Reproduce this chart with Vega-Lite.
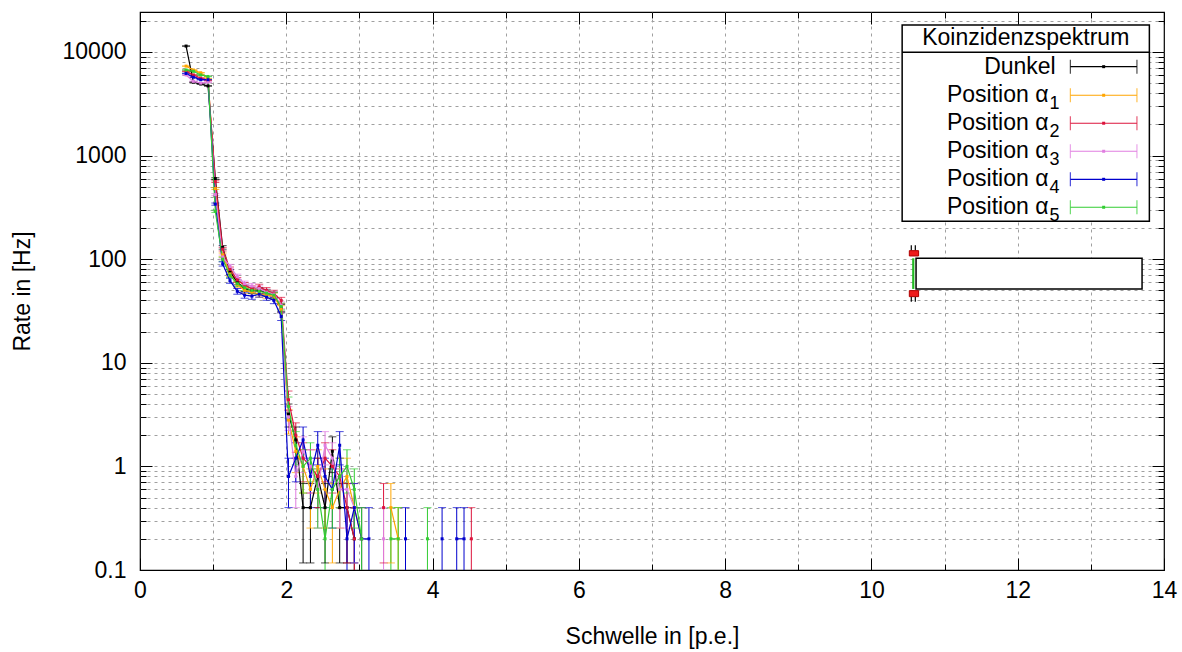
{
  "$schema": "https://vega.github.io/schema/vega-lite/v6.json",
  "width": 1024,
  "height": 558,
  "autosize": {"type": "none"},
  "padding": {"left": 140, "top": 12, "right": 18, "bottom": 82},
  "background": "white",
  "config": {
    "font": "Liberation Sans",
    "view": {"stroke": "black", "strokeWidth": 1.2}
  },
  "datasets": {
    "pts": [
      {"series":"Dunkel","x":0.63,"y":11400,"lo":11352,"hi":11448,"seg":1},
      {"series":"Dunkel","x":0.73,"y":5100,"lo":5068,"hi":5132,"seg":1},
      {"series":"Dunkel","x":0.83,"y":4900,"lo":4869,"hi":4931,"seg":1},
      {"series":"Dunkel","x":0.93,"y":4700,"lo":4669,"hi":4731,"seg":1},
      {"series":"Dunkel","x":1.03,"y":600,"lo":589,"hi":611,"seg":1},
      {"series":"Dunkel","x":1.13,"y":130,"lo":124.9,"hi":135.1,"seg":1},
      {"series":"Dunkel","x":1.23,"y":75,"lo":71.1,"hi":78.9,"seg":1},
      {"series":"Dunkel","x":1.33,"y":60,"lo":56.5,"hi":63.5,"seg":1},
      {"series":"Dunkel","x":1.43,"y":52,"lo":48.8,"hi":55.2,"seg":1},
      {"series":"Dunkel","x":1.53,"y":50,"lo":46.8,"hi":53.2,"seg":1},
      {"series":"Dunkel","x":1.63,"y":50,"lo":46.8,"hi":53.2,"seg":1},
      {"series":"Dunkel","x":1.73,"y":48,"lo":44.9,"hi":51.1,"seg":1},
      {"series":"Dunkel","x":1.83,"y":45,"lo":42,"hi":48,"seg":1},
      {"series":"Dunkel","x":1.93,"y":34,"lo":31.4,"hi":36.6,"seg":1},
      {"series":"Dunkel","x":2.03,"y":3.2,"lo":2.4,"hi":4.0,"seg":1},
      {"series":"Dunkel","x":2.13,"y":1.8,"lo":1.2,"hi":2.4,"seg":1},
      {"series":"Dunkel","x":2.23,"y":0.4,"lo":0.117,"hi":0.683,"seg":1},
      {"series":"Dunkel","x":2.33,"y":0.4,"lo":0.117,"hi":0.683,"seg":1},
      {"series":"Dunkel","x":2.43,"y":0.8,"lo":0.4,"hi":1.2,"seg":1},
      {"series":"Dunkel","x":2.53,"y":0.4,"lo":0.117,"hi":0.683,"seg":1},
      {"series":"Dunkel","x":2.63,"y":1.4,"lo":0.871,"hi":1.929,"seg":1},
      {"series":"Dunkel","x":2.73,"y":0.4,"lo":0.117,"hi":0.683,"seg":1},
      {"series":"Dunkel","x":2.83,"y":0.4,"lo":0.117,"hi":0.683,"seg":1},
      {"series":"Dunkel","x":2.93,"y":0.2,"lo":0.001,"hi":0.4,"seg":1},

      {"series":"α1","x":0.63,"y":7300,"lo":7262,"hi":7338,"seg":1},
      {"series":"α1","x":0.73,"y":6700,"lo":6663,"hi":6737,"seg":1},
      {"series":"α1","x":0.83,"y":6300,"lo":6265,"hi":6335,"seg":1},
      {"series":"α1","x":0.93,"y":5500,"lo":5467,"hi":5533,"seg":1},
      {"series":"α1","x":1.03,"y":480,"lo":470.2,"hi":489.8,"seg":1},
      {"series":"α1","x":1.13,"y":110,"lo":105.3,"hi":114.7,"seg":1},
      {"series":"α1","x":1.23,"y":72,"lo":68.2,"hi":75.8,"seg":1},
      {"series":"α1","x":1.33,"y":57,"lo":53.6,"hi":60.4,"seg":1},
      {"series":"α1","x":1.43,"y":50,"lo":46.8,"hi":53.2,"seg":1},
      {"series":"α1","x":1.53,"y":48,"lo":44.9,"hi":51.1,"seg":1},
      {"series":"α1","x":1.63,"y":46,"lo":43.0,"hi":49.0,"seg":1},
      {"series":"α1","x":1.73,"y":45,"lo":42,"hi":48,"seg":1},
      {"series":"α1","x":1.83,"y":44,"lo":41.0,"hi":47.0,"seg":1},
      {"series":"α1","x":1.93,"y":33,"lo":30.4,"hi":35.6,"seg":1},
      {"series":"α1","x":2.03,"y":2.8,"lo":2.052,"hi":3.548,"seg":1},
      {"series":"α1","x":2.13,"y":1.4,"lo":0.871,"hi":1.929,"seg":1},
      {"series":"α1","x":2.23,"y":1.0,"lo":0.553,"hi":1.447,"seg":1},
      {"series":"α1","x":2.33,"y":0.6,"lo":0.254,"hi":0.946,"seg":1},
      {"series":"α1","x":2.43,"y":1.0,"lo":0.553,"hi":1.447,"seg":1},
      {"series":"α1","x":2.53,"y":0.6,"lo":0.254,"hi":0.946,"seg":1},
      {"series":"α1","x":2.63,"y":0.4,"lo":0.117,"hi":0.683,"seg":1},
      {"series":"α1","x":2.73,"y":0.6,"lo":0.254,"hi":0.946,"seg":1},
      {"series":"α1","x":2.83,"y":0.8,"lo":0.4,"hi":1.2,"seg":1},
      {"series":"α1","x":2.93,"y":0.4,"lo":0.117,"hi":0.683,"seg":1},
      {"series":"α1","x":3.03,"y":0.2,"lo":0.001,"hi":0.4,"seg":1},
      {"series":"α1","x":3.43,"y":0.4,"lo":0.117,"hi":0.683,"seg":2},
      {"series":"α1","x":3.53,"y":0.2,"lo":0.001,"hi":0.4,"seg":2},

      {"series":"α2","x":0.63,"y":6500,"lo":6464,"hi":6536,"seg":1},
      {"series":"α2","x":0.73,"y":6000,"lo":5965,"hi":6035,"seg":1},
      {"series":"α2","x":0.83,"y":5600,"lo":5567,"hi":5633,"seg":1},
      {"series":"α2","x":0.93,"y":5300,"lo":5267,"hi":5333,"seg":1},
      {"series":"α2","x":1.03,"y":560,"lo":549.4,"hi":570.6,"seg":1},
      {"series":"α2","x":1.13,"y":125,"lo":120,"hi":130,"seg":1},
      {"series":"α2","x":1.23,"y":80,"lo":76,"hi":84,"seg":1},
      {"series":"α2","x":1.33,"y":63,"lo":59.5,"hi":66.6,"seg":1},
      {"series":"α2","x":1.43,"y":56,"lo":52.7,"hi":59.4,"seg":1},
      {"series":"α2","x":1.53,"y":52,"lo":48.8,"hi":55.2,"seg":1},
      {"series":"α2","x":1.63,"y":54,"lo":50.7,"hi":57.3,"seg":1},
      {"series":"α2","x":1.73,"y":50,"lo":46.8,"hi":53.2,"seg":1},
      {"series":"α2","x":1.83,"y":47,"lo":43.9,"hi":50.1,"seg":1},
      {"series":"α2","x":1.93,"y":40,"lo":37.2,"hi":42.8,"seg":1},
      {"series":"α2","x":2.03,"y":4.4,"lo":3.462,"hi":5.338,"seg":1},
      {"series":"α2","x":2.13,"y":2.0,"lo":1.368,"hi":2.632,"seg":1},
      {"series":"α2","x":2.23,"y":1.2,"lo":0.71,"hi":1.69,"seg":1},
      {"series":"α2","x":2.33,"y":1.0,"lo":0.553,"hi":1.447,"seg":1},
      {"series":"α2","x":2.43,"y":0.8,"lo":0.4,"hi":1.2,"seg":1},
      {"series":"α2","x":2.53,"y":1.2,"lo":0.71,"hi":1.69,"seg":1},
      {"series":"α2","x":2.63,"y":1.0,"lo":0.553,"hi":1.447,"seg":1},
      {"series":"α2","x":2.73,"y":0.8,"lo":0.4,"hi":1.2,"seg":1},
      {"series":"α2","x":2.83,"y":0.4,"lo":0.117,"hi":0.683,"seg":1},
      {"series":"α2","x":2.93,"y":0.2,"lo":0.001,"hi":0.4,"seg":1},
      {"series":"α2","x":3.33,"y":0.4,"lo":0.117,"hi":0.683,"seg":2},
      {"series":"α2","x":4.53,"y":0.2,"lo":0.001,"hi":0.4,"seg":3},

      {"series":"α3","x":0.63,"y":6000,"lo":5965,"hi":6035,"seg":1},
      {"series":"α3","x":0.73,"y":5200,"lo":5168,"hi":5232,"seg":1},
      {"series":"α3","x":0.83,"y":5000,"lo":4968,"hi":5032,"seg":1},
      {"series":"α3","x":0.93,"y":5100,"lo":5068,"hi":5132,"seg":1},
      {"series":"α3","x":1.03,"y":420,"lo":410.8,"hi":429.2,"seg":1},
      {"series":"α3","x":1.13,"y":105,"lo":100.4,"hi":109.6,"seg":1},
      {"series":"α3","x":1.23,"y":85,"lo":80.9,"hi":89.1,"seg":1},
      {"series":"α3","x":1.33,"y":68,"lo":64.3,"hi":71.7,"seg":1},
      {"series":"α3","x":1.43,"y":58,"lo":54.6,"hi":61.4,"seg":1},
      {"series":"α3","x":1.53,"y":55,"lo":51.7,"hi":58.3,"seg":1},
      {"series":"α3","x":1.63,"y":52,"lo":48.8,"hi":55.2,"seg":1},
      {"series":"α3","x":1.73,"y":48,"lo":44.9,"hi":51.1,"seg":1},
      {"series":"α3","x":1.83,"y":46,"lo":43.0,"hi":49.0,"seg":1},
      {"series":"α3","x":1.93,"y":36,"lo":33.3,"hi":38.7,"seg":1},
      {"series":"α3","x":2.03,"y":3.0,"lo":2.225,"hi":3.775,"seg":1},
      {"series":"α3","x":2.13,"y":0.8,"lo":0.4,"hi":1.2,"seg":1},
      {"series":"α3","x":2.23,"y":1.4,"lo":0.871,"hi":1.929,"seg":1},
      {"series":"α3","x":2.33,"y":1.0,"lo":0.553,"hi":1.447,"seg":1},
      {"series":"α3","x":2.43,"y":0.6,"lo":0.254,"hi":0.946,"seg":1},
      {"series":"α3","x":2.53,"y":1.6,"lo":1.034,"hi":2.166,"seg":1},
      {"series":"α3","x":2.63,"y":1.2,"lo":0.71,"hi":1.69,"seg":1},
      {"series":"α3","x":2.73,"y":0.6,"lo":0.254,"hi":0.946,"seg":1},
      {"series":"α3","x":2.83,"y":0.6,"lo":0.254,"hi":0.946,"seg":1},
      {"series":"α3","x":2.93,"y":0.4,"lo":0.117,"hi":0.683,"seg":1},
      {"series":"α3","x":3.33,"y":0.2,"lo":0.001,"hi":0.4,"seg":2},

      {"series":"α4","x":0.63,"y":6200,"lo":6165,"hi":6235,"seg":1},
      {"series":"α4","x":0.73,"y":5700,"lo":5666,"hi":5734,"seg":1},
      {"series":"α4","x":0.83,"y":5400,"lo":5367,"hi":5433,"seg":1},
      {"series":"α4","x":0.93,"y":5400,"lo":5367,"hi":5433,"seg":1},
      {"series":"α4","x":1.03,"y":340,"lo":331.8,"hi":348.2,"seg":1},
      {"series":"α4","x":1.13,"y":90,"lo":85.8,"hi":94.2,"seg":1},
      {"series":"α4","x":1.23,"y":62,"lo":58.5,"hi":65.5,"seg":1},
      {"series":"α4","x":1.33,"y":49,"lo":45.9,"hi":52.1,"seg":1},
      {"series":"α4","x":1.43,"y":45,"lo":42,"hi":48,"seg":1},
      {"series":"α4","x":1.53,"y":44,"lo":41.0,"hi":47.0,"seg":1},
      {"series":"α4","x":1.63,"y":46,"lo":43.0,"hi":49.0,"seg":1},
      {"series":"α4","x":1.73,"y":43,"lo":40.1,"hi":45.9,"seg":1},
      {"series":"α4","x":1.83,"y":40,"lo":37.2,"hi":42.8,"seg":1},
      {"series":"α4","x":1.93,"y":28,"lo":25.6,"hi":30.4,"seg":1},
      {"series":"α4","x":2.03,"y":0.8,"lo":0.4,"hi":1.2,"seg":1},
      {"series":"α4","x":2.13,"y":1.2,"lo":0.71,"hi":1.69,"seg":1},
      {"series":"α4","x":2.23,"y":1.8,"lo":1.2,"hi":2.4,"seg":1},
      {"series":"α4","x":2.33,"y":0.8,"lo":0.4,"hi":1.2,"seg":1},
      {"series":"α4","x":2.43,"y":1.6,"lo":1.034,"hi":2.166,"seg":1},
      {"series":"α4","x":2.53,"y":0.8,"lo":0.4,"hi":1.2,"seg":1},
      {"series":"α4","x":2.63,"y":0.6,"lo":0.254,"hi":0.946,"seg":1},
      {"series":"α4","x":2.73,"y":1.6,"lo":1.034,"hi":2.166,"seg":1},
      {"series":"α4","x":2.83,"y":0.2,"lo":0.001,"hi":0.4,"seg":1},
      {"series":"α4","x":2.93,"y":0.4,"lo":0.117,"hi":0.683,"seg":1},
      {"series":"α4","x":3.03,"y":0.2,"lo":0.001,"hi":0.4,"seg":1},
      {"series":"α4","x":3.13,"y":0.2,"lo":0.001,"hi":0.4,"seg":1},
      {"series":"α4","x":3.63,"y":0.2,"lo":0.001,"hi":0.4,"seg":2},
      {"series":"α4","x":4.13,"y":0.2,"lo":0.001,"hi":0.4,"seg":3},
      {"series":"α4","x":4.33,"y":0.2,"lo":0.001,"hi":0.4,"seg":4},
      {"series":"α4","x":4.43,"y":0.2,"lo":0.001,"hi":0.4,"seg":4},

      {"series":"α5","x":0.63,"y":6700,"lo":6663,"hi":6737,"seg":1},
      {"series":"α5","x":0.73,"y":6500,"lo":6464,"hi":6536,"seg":1},
      {"series":"α5","x":0.83,"y":6000,"lo":5965,"hi":6035,"seg":1},
      {"series":"α5","x":0.93,"y":5800,"lo":5766,"hi":5834,"seg":1},
      {"series":"α5","x":1.03,"y":290,"lo":282.4,"hi":297.6,"seg":1},
      {"series":"α5","x":1.13,"y":100,"lo":95.5,"hi":104.5,"seg":1},
      {"series":"α5","x":1.23,"y":70,"lo":66.3,"hi":73.7,"seg":1},
      {"series":"α5","x":1.33,"y":58,"lo":54.6,"hi":61.4,"seg":1},
      {"series":"α5","x":1.43,"y":53,"lo":49.7,"hi":56.3,"seg":1},
      {"series":"α5","x":1.53,"y":50,"lo":46.8,"hi":53.2,"seg":1},
      {"series":"α5","x":1.63,"y":49,"lo":45.9,"hi":52.1,"seg":1},
      {"series":"α5","x":1.73,"y":47,"lo":43.9,"hi":50.1,"seg":1},
      {"series":"α5","x":1.83,"y":45,"lo":42,"hi":48,"seg":1},
      {"series":"α5","x":1.93,"y":35,"lo":32.4,"hi":37.6,"seg":1},
      {"series":"α5","x":2.03,"y":3.8,"lo":2.928,"hi":4.672,"seg":1},
      {"series":"α5","x":2.13,"y":1.6,"lo":1.034,"hi":2.166,"seg":1},
      {"series":"α5","x":2.23,"y":1.0,"lo":0.553,"hi":1.447,"seg":1},
      {"series":"α5","x":2.33,"y":1.2,"lo":0.71,"hi":1.69,"seg":1},
      {"series":"α5","x":2.43,"y":0.6,"lo":0.254,"hi":0.946,"seg":1},
      {"series":"α5","x":2.53,"y":0.2,"lo":0.001,"hi":0.4,"seg":1},
      {"series":"α5","x":2.63,"y":0.6,"lo":0.254,"hi":0.946,"seg":1},
      {"series":"α5","x":2.73,"y":0.8,"lo":0.4,"hi":1.2,"seg":1},
      {"series":"α5","x":2.83,"y":1.0,"lo":0.553,"hi":1.447,"seg":1},
      {"series":"α5","x":2.93,"y":0.6,"lo":0.254,"hi":0.946,"seg":1},
      {"series":"α5","x":3.03,"y":0.2,"lo":0.001,"hi":0.4,"seg":1},
      {"series":"α5","x":3.43,"y":0.2,"lo":0.001,"hi":0.4,"seg":2},
      {"series":"α5","x":3.53,"y":0.2,"lo":0.001,"hi":0.4,"seg":2},
      {"series":"α5","x":3.93,"y":0.2,"lo":0.001,"hi":0.4,"seg":3}
    ],
    "leg": [
      {"series":"Dunkel","main":"Dunkel","sub":"","x":12.52,"y":7211},
      {"series":"α1","main":"Position α","sub":"1","x":12.42,"y":3820},
      {"series":"α2","main":"Position α","sub":"2","x":12.42,"y":2051},
      {"series":"α3","main":"Position α","sub":"3","x":12.42,"y":1100},
      {"series":"α4","main":"Position α","sub":"4","x":12.42,"y":590},
      {"series":"α5","main":"Position α","sub":"5","x":12.42,"y":317}
    ],
    "boxes": [
      {"x":10.42,"x2":13.80,"y":232,"y2":18230},
      {"x":10.61,"x2":13.70,"y":51.6,"y2":102}
    ]
  },
  "resolve": {"axis": {"x": "independent", "y": "independent"}},
  "layer": [
    {
      "data": {"name": "pts"},
      "mark": {"type": "rule", "strokeWidth": 1, "clip": true},
      "encoding": {
        "x": {"field": "x", "type": "quantitative", "scale": {"domain": [0, 14], "nice": false, "zero": false},
          "axis": {
            "orient": "bottom",
            "values": [0,1,2,3,4,5,6,7,8,9,10,11,12,13,14],
            "format": "d",
            "labelExpr": "datum.value % 2 === 0 ? datum.label : ''",
            "tickSize": {"condition": {"test": "datum.value % 2 === 0", "value": -12}, "value": -6},
            "tickColor": "black",
            "domain": false,
            "grid": true,
            "gridColor": "#a0a0a0",
            "gridDash": [3, 4],
            "gridOpacity": {"condition": {"test": "datum.value === 0 || datum.value === 14", "value": 0}, "value": 1},
            "labelFontSize": 23,
            "labelColor": "black",
            "labelPadding": 21,
            "labelFlush": false,
            "labelOverlap": false,
            "title": "Schwelle in [p.e.]",
            "titleFontSize": 23,
            "titleFontWeight": "normal",
            "titleColor": "black",
            "titleX": 512,
            "titleY": 66,
            "titleBaseline": "middle",
            "titleAlign": "center"
          }
        },
        "y": {"field": "lo", "type": "quantitative", "scale": {"type": "log", "domain": [0.1, 24300], "nice": false},
          "axis": {
            "orient": "left",
            "values": [0.1,0.2,0.3,0.4,0.5,0.6,0.7,0.8,0.9,1,2,3,4,5,6,7,8,9,10,20,30,40,50,60,70,80,90,100,200,300,400,500,600,700,800,900,1000,2000,3000,4000,5000,6000,7000,8000,9000,10000,20000],
            "format": "~g",
            "labelExpr": "indexof(['0.1','1','10','100','1000','10000'], datum.label) >= 0 ? datum.label : ''",
            "tickSize": {"condition": {"test": "abs(log(datum.value)/LN10 - round(log(datum.value)/LN10)) < 0.001", "value": -12}, "value": -6},
            "tickColor": "black",
            "domain": false,
            "grid": true,
            "gridColor": "#a0a0a0",
            "gridDash": [3, 4],
            "gridOpacity": {"condition": {"test": "datum.value < 0.15", "value": 0}, "value": 1},
            "labelFontSize": 23,
            "labelColor": "black",
            "labelPadding": 26,
            "labelFlush": false,
            "labelOverlap": false,
            "title": "Rate in [Hz]",
            "titleFontSize": 23,
            "titleFontWeight": "normal",
            "titleColor": "black",
            "titleX": -118,
            "titleY": 279,
            "titleAngle": -90,
            "titleBaseline": "middle",
            "titleAlign": "center"
          }
        },
        "y2": {"field": "hi"},
        "color": {"field": "series", "type": "nominal",
          "scale": {"domain": ["Dunkel","α1","α2","α3","α4","α5"], "range": ["#000000","#ffa500","#dc143c","#e07ee0","#0000cd","#32cd32"]},
          "legend": null}
      }
    },
    {
      "data": {"name": "pts"},
      "mark": {"type": "tick", "orient": "horizontal", "size": 8, "thickness": 1, "clip": true},
      "encoding": {
        "x": {"field": "x", "type": "quantitative", "scale": {"domain": [0, 14], "nice": false, "zero": false}, "axis": null},
        "y": {"field": "lo", "type": "quantitative", "scale": {"type": "log", "domain": [0.1, 24300], "nice": false}, "axis": null},
        "color": {"field": "series", "type": "nominal", "legend": null}
      }
    },
    {
      "data": {"name": "pts"},
      "mark": {"type": "tick", "orient": "horizontal", "size": 8, "thickness": 1, "clip": true},
      "encoding": {
        "x": {"field": "x", "type": "quantitative", "scale": {"domain": [0, 14], "nice": false, "zero": false}, "axis": null},
        "y": {"field": "hi", "type": "quantitative", "scale": {"type": "log", "domain": [0.1, 24300], "nice": false}, "axis": null},
        "color": {"field": "series", "type": "nominal", "legend": null}
      }
    },
    {
      "data": {"name": "pts"},
      "mark": {"type": "line", "strokeWidth": 1.2, "clip": true},
      "encoding": {
        "x": {"field": "x", "type": "quantitative", "scale": {"domain": [0, 14], "nice": false, "zero": false},
          "axis": {
            "orient": "top",
            "values": [0,1,2,3,4,5,6,7,8,9,10,11,12,13,14],
            "labels": false,
            "tickSize": {"condition": {"test": "datum.value % 2 === 0", "value": -12}, "value": -6},
            "tickColor": "black",
            "domain": false,
            "grid": false,
            "title": null
          }
        },
        "y": {"field": "y", "type": "quantitative", "scale": {"type": "log", "domain": [0.1, 24300], "nice": false},
          "axis": {
            "orient": "right",
            "values": [0.1,0.2,0.3,0.4,0.5,0.6,0.7,0.8,0.9,1,2,3,4,5,6,7,8,9,10,20,30,40,50,60,70,80,90,100,200,300,400,500,600,700,800,900,1000,2000,3000,4000,5000,6000,7000,8000,9000,10000,20000],
            "labels": false,
            "tickSize": {"condition": {"test": "abs(log(datum.value)/LN10 - round(log(datum.value)/LN10)) < 0.001", "value": -12}, "value": -6},
            "tickColor": "black",
            "domain": false,
            "grid": false,
            "title": null
          }
        },
        "color": {"field": "series", "type": "nominal", "legend": null},
        "detail": {"field": "seg", "type": "nominal"}
      }
    },
    {
      "data": {"name": "pts"},
      "mark": {"type": "square", "size": 9, "filled": true, "opacity": 1, "clip": true},
      "encoding": {
        "x": {"field": "x", "type": "quantitative", "scale": {"domain": [0, 14], "nice": false, "zero": false}, "axis": null},
        "y": {"field": "y", "type": "quantitative", "scale": {"type": "log", "domain": [0.1, 24300], "nice": false}, "axis": null},
        "color": {"field": "series", "type": "nominal", "legend": null}
      }
    },
    {
      "data": {"name": "boxes"},
      "mark": {"type": "rect", "fill": "white", "stroke": "black", "strokeWidth": 1.5},
      "encoding": {
        "x": {"field": "x", "type": "quantitative", "axis": null},
        "x2": {"field": "x2"},
        "y": {"field": "y", "type": "quantitative", "axis": null},
        "y2": {"field": "y2"}
      }
    },
    {
      "data": {"values": [{"x": 10.42, "x2": 13.80, "y": 9950}]},
      "mark": {"type": "rule", "stroke": "black", "strokeWidth": 1.5},
      "encoding": {
        "x": {"field": "x", "type": "quantitative", "axis": null},
        "x2": {"field": "x2"},
        "y": {"field": "y", "type": "quantitative", "axis": null}
      }
    },
    {
      "data": {"values": [{"x": 12.11, "y": 13650, "t": "Koinzidenzspektrum"}]},
      "mark": {"type": "text", "fontSize": 23, "align": "center", "baseline": "alphabetic", "dy": 7, "color": "black"},
      "encoding": {
        "x": {"field": "x", "type": "quantitative", "axis": null},
        "y": {"field": "y", "type": "quantitative", "axis": null},
        "text": {"field": "t"}
      }
    },
    {
      "data": {"name": "leg"},
      "mark": {"type": "text", "fontSize": 23, "align": "right", "baseline": "alphabetic", "dy": 7, "color": "black"},
      "encoding": {
        "x": {"field": "x", "type": "quantitative", "axis": null},
        "y": {"field": "y", "type": "quantitative", "axis": null},
        "text": {"field": "main"}
      }
    },
    {
      "data": {"name": "leg"},
      "mark": {"type": "text", "fontSize": 18, "align": "left", "baseline": "alphabetic", "dy": 14, "dx": 1, "color": "black"},
      "encoding": {
        "x": {"field": "x", "type": "quantitative", "axis": null},
        "y": {"field": "y", "type": "quantitative", "axis": null},
        "text": {"field": "sub"}
      }
    },
    {
      "data": {"name": "leg"},
      "mark": {"type": "rule", "strokeWidth": 1.2},
      "encoding": {
        "x": {"datum": 12.72, "type": "quantitative", "axis": null},
        "x2": {"datum": 13.63},
        "y": {"field": "y", "type": "quantitative", "axis": null},
        "color": {"field": "series", "type": "nominal", "legend": null}
      }
    },
    {
      "data": {"name": "leg"},
      "mark": {"type": "tick", "orient": "vertical", "size": 14, "thickness": 1.2},
      "encoding": {
        "x": {"datum": 12.72, "type": "quantitative", "axis": null},
        "y": {"field": "y", "type": "quantitative", "axis": null},
        "color": {"field": "series", "type": "nominal", "legend": null}
      }
    },
    {
      "data": {"name": "leg"},
      "mark": {"type": "tick", "orient": "vertical", "size": 14, "thickness": 1.2},
      "encoding": {
        "x": {"datum": 13.63, "type": "quantitative", "axis": null},
        "y": {"field": "y", "type": "quantitative", "axis": null},
        "color": {"field": "series", "type": "nominal", "legend": null}
      }
    },
    {
      "data": {"name": "leg"},
      "mark": {"type": "square", "size": 9, "filled": true, "opacity": 1},
      "encoding": {
        "x": {"datum": 13.175, "type": "quantitative", "axis": null},
        "y": {"field": "y", "type": "quantitative", "axis": null},
        "color": {"field": "series", "type": "nominal", "legend": null}
      }
    },
    {
      "data": {"values": [{"x": 10.572, "y": 51.6, "y2": 102}]},
      "mark": {"type": "rule", "stroke": "#22bb22", "strokeWidth": 2.2},
      "encoding": {
        "x": {"field": "x", "type": "quantitative", "axis": null},
        "y": {"field": "y", "type": "quantitative", "axis": null},
        "y2": {"field": "y2"}
      }
    },
    {
      "data": {"values": [{"x": 10.545, "y": 121, "y2": 136}, {"x": 10.60, "y": 121, "y2": 136}, {"x": 10.545, "y": 38.9, "y2": 43.5}, {"x": 10.60, "y": 38.9, "y2": 43.5}]},
      "mark": {"type": "rule", "stroke": "black", "strokeWidth": 1.2},
      "encoding": {
        "x": {"field": "x", "type": "quantitative", "axis": null},
        "y": {"field": "y", "type": "quantitative", "axis": null},
        "y2": {"field": "y2"}
      }
    },
    {
      "data": {"values": [{"x": 10.518, "x2": 10.645, "y": 107.4, "y2": 120.8}, {"x": 10.518, "x2": 10.645, "y": 43.5, "y2": 49.7}]},
      "mark": {"type": "rect", "fill": "#ee1c1c", "stroke": "#b00000", "strokeWidth": 1},
      "encoding": {
        "x": {"field": "x", "type": "quantitative", "axis": null},
        "x2": {"field": "x2"},
        "y": {"field": "y", "type": "quantitative", "axis": null},
        "y2": {"field": "y2"}
      }
    }
  ]
}
